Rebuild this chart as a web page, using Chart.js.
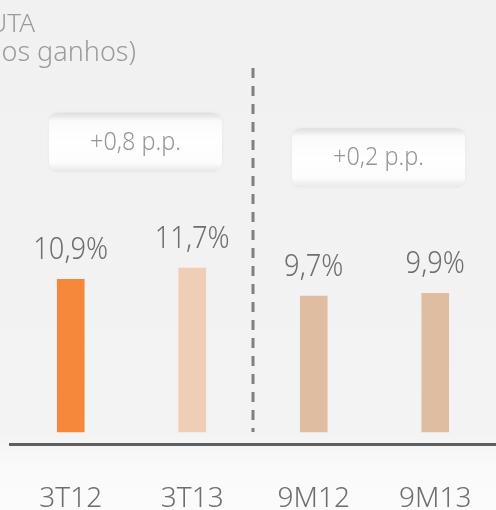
<!DOCTYPE html>
<html>
<head>
<meta charset="utf-8">
<script src="https://cdn.jsdelivr.net/npm/chart.js@4.4.1/dist/chart.umd.min.js"></script>
<style>
html,body{margin:0;padding:0;overflow:hidden;background:#f1f1f1;}
#wrap{width:496px;height:510px;position:relative;}
</style>
</head>
<body>
<div id="wrap"><canvas id="c" width="496" height="510"></canvas></div>
<script>
const categories = ["3T12", "3T13", "9M12", "9M13"];
const marginValues = [10.9, 11.7, 9.7, 9.9];
const valueLabels = ["10,9%", "11,7%", "9,7%", "9,9%"];
const barColors = ["#F5883A", "#EFCEB6", "#DFBDA0", "#DFBDA0"];
const deltaLabels = ["+0,8 p.p.", "+0,2 p.p."];
const titleLines = ["MARGEM BRUTA", "(excluindo os ganhos)"];

const FONT = "'Noto Sans', Lato, sans-serif";
const W = 300;

const bgPlugin = {
  id: 'bg',
  beforeDraw(chart) {
    const ctx = chart.ctx;
    const g = ctx.createLinearGradient(0, 0, 0, chart.height);
    g.addColorStop(0, '#f1f1f1');
    g.addColorStop(0.85, '#f3f3f3');
    g.addColorStop(0.92, '#fafafa');
    g.addColorStop(1, '#fbfbfb');
    ctx.save();
    ctx.fillStyle = g;
    ctx.fillRect(0, 0, chart.width, chart.height);
    ctx.restore();
  }
};

function roundRect(ctx, x, y, w, h, r) {
  ctx.beginPath();
  ctx.moveTo(x + r, y);
  ctx.lineTo(x + w - r, y);
  ctx.quadraticCurveTo(x + w, y, x + w, y + r);
  ctx.lineTo(x + w, y + h - r);
  ctx.quadraticCurveTo(x + w, y + h, x + w - r, y + h);
  ctx.lineTo(x + r, y + h);
  ctx.quadraticCurveTo(x, y + h, x, y + h - r);
  ctx.lineTo(x, y + r);
  ctx.quadraticCurveTo(x, y, x + r, y);
  ctx.closePath();
}

function narrowText(ctx, text, x, y, sx) {
  ctx.save();
  ctx.translate(x, y);
  ctx.scale(sx, 1);
  ctx.fillText(text, 0, 0);
  ctx.restore();
}

const decoPlugin = {
  id: 'deco',
  afterDatasetsDraw(chart) {
    const ctx = chart.ctx;
    const xs = chart.scales.x, ys = chart.scales.y;
    ctx.save();
    ctx.fillStyle = '#9b9b9b';
    ctx.font = W + " 26px " + FONT;
    ctx.textAlign = 'right';
    ctx.textBaseline = 'alphabetic';
    ctx.fillText(titleLines[0], 35, 32);
    ctx.font = W + " 27px " + FONT;
    ctx.fillText(titleLines[1], 136, 61);

    const sepX = (xs.getPixelForValue(1) + xs.getPixelForValue(2)) / 2;
    ctx.strokeStyle = '#808080';
    ctx.lineWidth = 3;
    ctx.setLineDash([10, 8]);
    ctx.beginPath();
    ctx.moveTo(sepX, chart.chartArea.top + 2);
    ctx.lineTo(sepX, ys.getPixelForValue(0));
    ctx.stroke();
    ctx.setLineDash([]);

    ctx.fillStyle = '#6e6e6e';
    ctx.font = W + " 32px " + FONT;
    ctx.textAlign = 'center';
    const meta = chart.getDatasetMeta(0);
    meta.data.forEach((bar, i) => {
      narrowText(ctx, valueLabels[i], bar.x, bar.y - 20, 0.85);
    });

    const boxTops = [ys.getPixelForValue(22.8), ys.getPixelForValue(21.7)];
    deltaLabels.forEach((t, k) => {
      const cx = (xs.getPixelForValue(2 * k) + xs.getPixelForValue(2 * k + 1)) / 2 + 4;
      const w = 173, h = 59;
      const x = cx - w / 2, y = boxTops[k];
      ctx.save();
      ctx.shadowColor = 'rgba(0,0,0,0.05)';
      ctx.shadowBlur = 3;
      const g = ctx.createLinearGradient(0, y, 0, y + h);
      g.addColorStop(0, '#dedede');
      g.addColorStop(0.14, '#fafafa');
      g.addColorStop(0.5, '#ffffff');
      g.addColorStop(0.85, '#fcfcfc');
      g.addColorStop(1, '#e8e8e8');
      ctx.fillStyle = g;
      roundRect(ctx, x, y, w, h, 10);
      ctx.fill();
      ctx.restore();
      ctx.fillStyle = '#959595';
      ctx.font = W + " 26px " + FONT;
      ctx.textAlign = 'center';
      ctx.textBaseline = 'middle';
      narrowText(ctx, t, cx, y + h / 2, 0.9);
      ctx.textBaseline = 'alphabetic';
    });
    ctx.restore();
  }
};

new Chart(document.getElementById('c'), {
  type: 'bar',
  data: {
    labels: categories,
    datasets: [{
      data: marginValues,
      backgroundColor: barColors,
      borderWidth: 0,
      barThickness: 27
    }]
  },
  options: {
    responsive: false,
    animation: false,
    devicePixelRatio: 1,
    layout: { padding: { left: 10, right: 0, top: 66, bottom: 0 } },
    plugins: { legend: { display: false }, tooltip: { enabled: false }, title: { display: false } },
    scales: {
      x: {
        grid: { display: false, drawTicks: false },
        border: { display: true, color: '#5f5f5f', width: 3 },
        ticks: { color: '#6e6e6e', font: { family: FONT, size: 28, weight: W, lineHeight: 1 }, padding: 41, maxRotation: 0, autoSkip: false },
        afterFit(scale) { scale.height = 66; scale.paddingLeft = 0; scale.paddingRight = 0; }
      },
      y: {
        display: false,
        min: -0.857,
        max: 26.14
      }
    }
  },
  plugins: [bgPlugin, decoPlugin]
});
</script>
</body>
</html>
